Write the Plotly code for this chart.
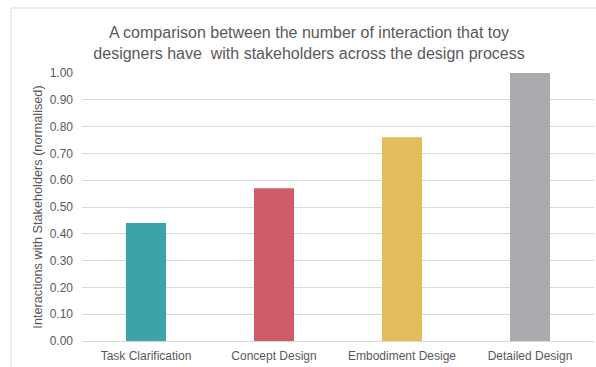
import plotly.graph_objects as go

# Design-process stages and normalised stakeholder interactions
stages = ["Task Clarification", "Concept Design", "Embodiment Desige", "Detailed Design"]
interactions = [0.44, 0.57, 0.76, 1.00]
bar_colors = ["#3ba3a9", "#d05b68", "#e1be5b", "#a9aaae"]
tick_values = [0.0, 0.1, 0.2, 0.3, 0.4, 0.5, 0.6, 0.7, 0.8, 0.9, 1.0]
tick_labels = ["0.00", "0.10", "0.20", "0.30", "0.40", "0.50", "0.60", "0.70", "0.80", "0.90", "1.00"]

W, H = 596, 367
ML, MR, MT, MB = 82, 2, 73, 26
PW, PH = W - ML - MR, H - MT - MB

FONT = "Liberation Sans, Arial, sans-serif"
TXT = "#595959"

fig = go.Figure(
    go.Bar(
        x=stages,
        y=interactions,
        marker=dict(color=bar_colors, line=dict(width=0)),
        width=0.3125,
    )
)


def px_x(p):
    return (p - ML) / PW


def px_y(p):
    return (H - MB - p) / PH


fig.update_layout(
    width=W,
    height=H,
    margin=dict(l=ML, r=MR, t=MT, b=MB),
    paper_bgcolor="white",
    plot_bgcolor="white",
    showlegend=False,
    font=dict(family=FONT, color=TXT),
    title=dict(
        text="A comparison between the number of interaction that toy<br>designers have  with stakeholders across the design process",
        x=309 / W,
        xanchor="center",
        y=1 - 38 / H,
        yanchor="middle",
        font=dict(family=FONT, size=16, color=TXT),
    ),
    xaxis=dict(
        showgrid=False,
        showline=False,
        ticks="",
        ticklabelstandoff=6,
        tickfont=dict(family=FONT, size=12, color=TXT),
    ),
    yaxis=dict(
        range=[0, 1.0],
        tickvals=tick_values,
        ticktext=tick_labels,
        showgrid=True,
        gridcolor="#d9d9d9",
        gridwidth=1,
        zeroline=True,
        zerolinecolor="#d9d9d9",
        zerolinewidth=1,
        ticks="",
        ticklabelstandoff=8,
        tickfont=dict(family=FONT, size=12, color=TXT),
        title=dict(
            text="Interactions with Stakeholders (normalised)",
            font=dict(family=FONT, size=12.7, color=TXT),
            standoff=4,
        ),
    ),
    shapes=[
        dict(
            type="rect",
            xref="paper",
            yref="paper",
            x0=px_x(11),
            x1=px_x(W + 5),
            y0=px_y(H + 5),
            y1=px_y(8),
            line=dict(color="#d9d9d9", width=1),
            fillcolor="rgba(0,0,0,0)",
            layer="below",
        )
    ],
)

fig.write_html("out.html")
